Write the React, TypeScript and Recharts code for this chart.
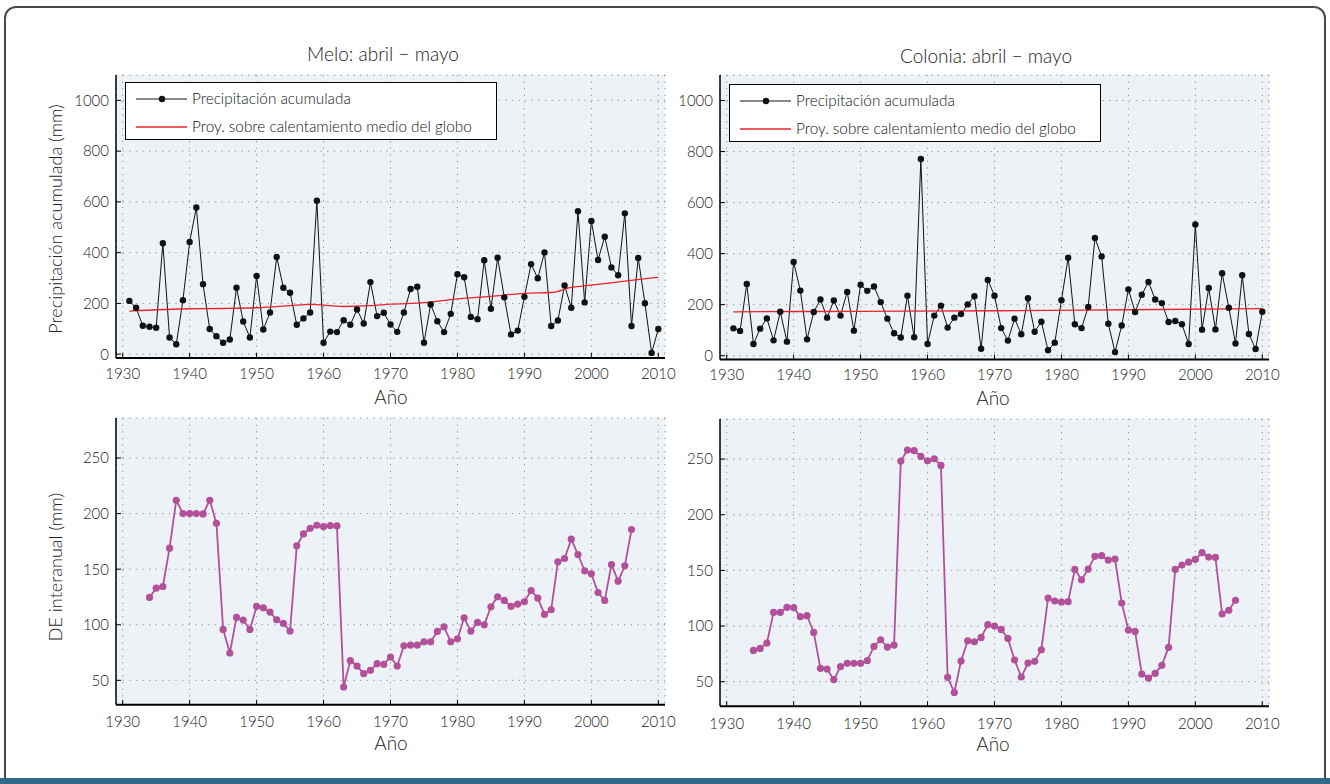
import React from 'react';
import { LineChart, Line, XAxis, YAxis, CartesianGrid } from 'recharts';

// años de la serie de precipitación
const precipYears = Array.from({ length: 80 }, (_, i) => 1931 + i);
// años de la desviación estándar interanual (ventana móvil)
const deYears = Array.from({ length: 73 }, (_, i) => 1934 + i);

const meloPrecip = [
  210, 183, 112, 108, 104, 437, 66, 39, 213, 442,
  578, 276, 99, 71, 45, 58, 262, 129, 66, 308,
  97, 164, 383, 262, 242, 116, 141, 164, 605, 45,
  89, 87, 134, 116, 176, 121, 284, 150, 163, 117,
  88, 164, 257, 266, 45, 196, 130, 87, 159, 315,
  303, 147, 138, 370, 179, 380, 224, 78, 93, 226,
  355, 299, 401, 111, 133, 271, 183, 563, 204, 525,
  371, 463, 342, 311, 555, 111, 379, 201, 5, 99,
];

const coloniaPrecip = [
  107, 97, 281, 46, 106, 146, 60, 172, 55, 367,
  255, 64, 171, 220, 149, 216, 157, 250, 98, 278,
  254, 271, 210, 145, 88, 71, 235, 72, 771, 46,
  157, 196, 110, 149, 163, 201, 233, 27, 297, 235,
  108, 59, 145, 84, 225, 94, 133, 21, 51, 217,
  384, 123, 108, 191, 461, 389, 125, 14, 118, 260,
  171, 239, 289, 220, 206, 132, 136, 123, 46, 514,
  102, 265, 103, 323, 188, 48, 315, 85, 26, 172,
];

// proyección sobre calentamiento medio del globo
const meloTrendYears = [1931, 1940, 1945, 1950, 1955, 1958, 1963, 1967, 1970, 1975, 1980, 1985, 1990, 1994, 1997, 2000, 2005, 2010];
const meloTrend = [170, 179, 180, 183, 191, 196, 188, 191, 197, 203, 218, 228, 240, 243, 263, 272, 288, 303];
const coloniaTrendYears = [1931, 1950, 1970, 1990, 2010];
const coloniaTrend = [172, 174, 176, 180, 184];

const meloDE = [
  124.6, 132.9, 134.4, 168.9, 212, 200, 200, 200, 199.7, 212,
  191.3, 95.8, 74.6, 106.6, 104.2, 95.8, 116.5, 115.3, 111.4, 104.5,
  101.2, 94.3, 171, 181.7, 186.8, 189.5, 188.3, 189.2, 188.9, 44,
  67.7, 62.9, 56, 59, 65, 64.4, 71, 62.9, 81.1, 81.7,
  81.7, 84.7, 84.7, 94, 98.2, 84.7, 87.4, 106.3, 94.3, 102.1,
  100, 116.2, 125.2, 121.9, 116.5, 118.6, 120.7, 130.8, 124, 109.3,
  113.5, 156.6, 159.6, 177, 163.2, 148.5, 145.8, 129, 121.9, 154.2,
  139.2, 153, 185.6,
];

const coloniaDE = [
  78.1, 79.9, 84.7, 112.3, 112.3, 116.8, 116.5, 108.4, 109.3, 94.3,
  62, 61.4, 51.8, 63.5, 66.5, 66.5, 66.5, 68.9, 81.7, 87.7,
  81.1, 82.9, 248.2, 258.1, 257.5, 252.4, 248.5, 250.3, 244.3, 53.9,
  40.4, 68.6, 86.8, 85.9, 89.8, 101.2, 100, 97, 88.9, 69.5,
  54.2, 66.8, 68.3, 78.7, 125.1, 122.5, 121.6, 121.9, 150.9, 141.6,
  151.2, 162.6, 163.2, 159.3, 160.2, 120.7, 96.4, 95.2, 56.9, 53.3,
  57.5, 64.7, 80.8, 150.9, 154.8, 157.5, 159.9, 165.9, 162, 161.7,
  110.8, 114.1, 123.1,
];

const xTicks = [1930, 1940, 1950, 1960, 1970, 1980, 1990, 2000, 2010];
const precipTicks = [0, 200, 400, 600, 800, 1000];
const deTicks = [50, 100, 150, 200, 250];

const toRows = (years: number[], values: number[]) =>
  years.map((year, i) => ({ year, value: values[i] }));

const FONT = 'Lato, "Open Sans", "DejaVu Sans", sans-serif';
const PLOT_BG = '#edf2f7';
const PURPLE = '#b3509a';
const RED = '#e8232a';
const FRAME = '#4a4a4a';

type Series = {
  data: { year: number; value: number }[];
  color: string;
  width: number;
  dotR?: number;
  smooth?: boolean;
};

type PanelProps = {
  left: number;
  top: number;
  width: number;
  height: number;
  yDomain: [number, number];
  yTicks: number[];
  xTickMargin: number;
  series: Series[];
};

function Panel({ left, top, width, height, yDomain, yTicks, xTickMargin, series }: PanelProps) {
  const padL = 80;
  const padR = 12;
  const padT = 10;
  const padB = 40;
  const tickStyle = { fontFamily: FONT, fontSize: 15, fontWeight: 300, fill: '#222' };
  return (
    <div style={{ position: 'absolute', left: left - padL, top: top - padT }}>
      <LineChart
        width={width + padL + padR}
        height={height + padT + padB}
        margin={{ top: padT, right: padR, bottom: 0, left: 0 }}
      >
        <CartesianGrid fill={PLOT_BG} fillOpacity={1} stroke="#8c8c8c" strokeDasharray="1.2 5.4" />
        <XAxis
          type="number"
          dataKey="year"
          domain={[1929, 2011]}
          ticks={xTicks}
          allowDataOverflow
          height={padB}
          tickSize={-5}
          tickMargin={xTickMargin}
          tick={tickStyle}
          axisLine={{ stroke: '#000', strokeWidth: 2 }}
          tickLine={{ stroke: '#000' }}
        />
        <XAxis
          xAxisId="top"
          orientation="top"
          type="number"
          dataKey="year"
          domain={[1929, 2011]}
          ticks={xTicks}
          allowDataOverflow
          height={0}
          tickSize={-5}
          tick={false}
          axisLine={{ stroke: '#000', strokeWidth: 1.2 }}
          tickLine={{ stroke: '#000' }}
        />
        <YAxis
          type="number"
          domain={yDomain}
          ticks={yTicks}
          allowDataOverflow
          width={padL}
          tickSize={-5}
          tickMargin={12}
          tick={tickStyle}
          axisLine={{ stroke: '#000', strokeWidth: 1.5 }}
          tickLine={{ stroke: '#000' }}
        />
        <YAxis
          yAxisId="right"
          orientation="right"
          type="number"
          domain={yDomain}
          ticks={yTicks}
          allowDataOverflow
          width={0}
          tickSize={-5}
          tick={false}
          axisLine={{ stroke: '#000', strokeWidth: 1.5 }}
          tickLine={{ stroke: '#000' }}
        />
        {series.map((s, i) => (
          <Line
            key={i}
            data={s.data}
            dataKey="value"
            type={s.smooth ? 'monotone' : 'linear'}
            stroke={s.color}
            strokeWidth={s.width}
            dot={s.dotR ? { r: s.dotR, fill: s.color, stroke: s.color, strokeWidth: 0 } : false}
            activeDot={false}
            isAnimationActive={false}
          />
        ))}
      </LineChart>
    </div>
  );
}

function Legend({ left, top }: { left: number; top: number }) {
  const text = { fontFamily: FONT, fontSize: 15.3, fontWeight: 300, color: '#111', whiteSpace: 'nowrap' as const };
  return (
    <div
      style={{
        position: 'absolute',
        left,
        top,
        width: 372,
        height: 58,
        background: '#fff',
        border: '1.5px solid #000',
        boxSizing: 'border-box',
      }}
    >
      <svg width={60} height={57} style={{ position: 'absolute', left: 8, top: 0 }}>
        <line x1={2} y1={16} x2={53} y2={16} stroke="#111" strokeWidth={1} />
        <circle cx={28} cy={16} r={3.2} fill="#111" />
        <line x1={2} y1={44} x2={53} y2={44} stroke={RED} strokeWidth={1.3} />
      </svg>
      <div style={{ ...text, position: 'absolute', left: 66, top: 6 }}>Precipitación acumulada</div>
      <div style={{ ...text, position: 'absolute', left: 66, top: 34 }}>
        Proy. sobre calentamiento medio del globo
      </div>
    </div>
  );
}

function Label({ x, y, text, size = 19, rotate = false }: { x: number; y: number; text: string; size?: number; rotate?: boolean }) {
  return (
    <div
      style={{
        position: 'absolute',
        left: x,
        top: y,
        transform: `translate(-50%, -50%)${rotate ? ' rotate(-90deg)' : ''}`,
        fontFamily: FONT,
        fontSize: size,
        fontWeight: 300,
        color: '#222',
        whiteSpace: 'nowrap',
      }}
    >
      {text}
    </div>
  );
}

function Frame() {
  return (
    <>
      <div
        style={{
          position: 'absolute',
          left: 4,
          top: 6,
          width: 1322,
          height: 790,
          border: `2px solid ${FRAME}`,
          borderRadius: '12px 12px 0 0',
          boxSizing: 'border-box',
        }}
      />
      <div style={{ position: 'absolute', left: 0, top: 778, width: 1330, height: 6, background: '#2f6b88' }} />
    </>
  );
}

export default function App() {
  const meloRows = toRows(precipYears, meloPrecip);
  const coloniaRows = toRows(precipYears, coloniaPrecip);
  const meloTrendRows = toRows(meloTrendYears, meloTrend);
  const coloniaTrendRows = toRows(coloniaTrendYears, coloniaTrend);
  const meloDERows = toRows(deYears, meloDE);
  const coloniaDERows = toRows(deYears, coloniaDE);

  return (
    <div style={{ position: 'fixed', left: 0, top: 0, width: 1330, height: 784, background: '#fff', overflow: 'hidden' }}>
      <Frame />

      <Panel
        left={116}
        top={75}
        width={549}
        height={283}
        yDomain={[-15, 1100]}
        yTicks={precipTicks}
        xTickMargin={15}
        series={[
          { data: meloRows, color: '#111', width: 1, dotR: 3.2 },
          { data: meloTrendRows, color: RED, width: 1.3, smooth: true },
        ]}
      />
      <Panel
        left={720}
        top={75}
        width={549}
        height={284.5}
        yDomain={[-15, 1100]}
        yTicks={precipTicks}
        xTickMargin={15}
        series={[
          { data: coloniaRows, color: '#111', width: 1, dotR: 3.2 },
          { data: coloniaTrendRows, color: RED, width: 1.3, smooth: true },
        ]}
      />
      <Panel
        left={116}
        top={417.7}
        width={549}
        height={286.8}
        yDomain={[28, 286]}
        yTicks={deTicks}
        xTickMargin={17}
        series={[{ data: meloDERows, color: PURPLE, width: 1.8, dotR: 3.6 }]}
      />
      <Panel
        left={720}
        top={418.6}
        width={549}
        height={287.2}
        yDomain={[28, 286]}
        yTicks={deTicks}
        xTickMargin={17}
        series={[{ data: coloniaDERows, color: PURPLE, width: 1.8, dotR: 3.6 }]}
      />

      <Legend left={125} top={82} />
      <Legend left={729} top={84} />

      <Label x={383} y={53} text="Melo: abril − mayo" />
      <Label x={986} y={55} text="Colonia: abril − mayo" />
      <Label x={391} y={396} text="Año" />
      <Label x={993} y={397} text="Año" />
      <Label x={391} y={742} text="Año" />
      <Label x={993} y={743} text="Año" />
      <Label x={55} y={219} text="Precipitación acumulada (mm)" size={18} rotate />
      <Label x={55} y={567} text="DE interanual (mm)" size={18} rotate />
    </div>
  );
}
